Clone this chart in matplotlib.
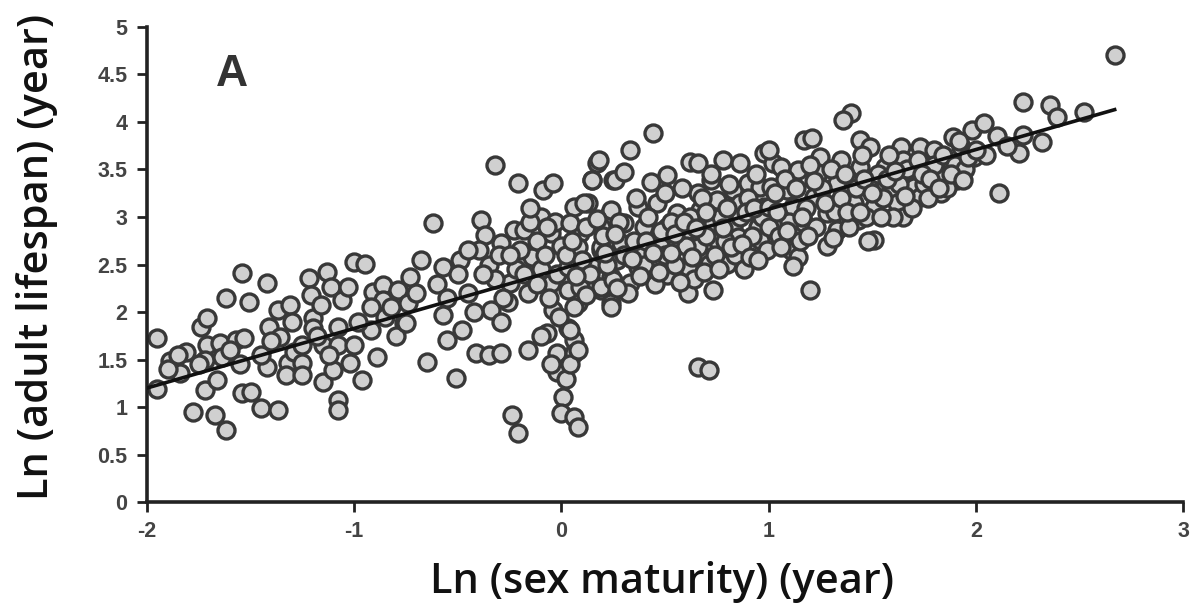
import numpy as np
import matplotlib
matplotlib.use("Agg")
import matplotlib.pyplot as plt

# ---- data ----
pts_left = [
    (-1.95,1.73),(-1.95,1.19),(-1.89,1.48),(-1.81,1.58),(-1.84,1.36),(-1.78,0.95),
    (-1.74,1.84),(-1.71,1.94),(-1.71,1.65),(-1.72,1.49),(-1.72,1.18),(-1.66,1.28),
    (-1.67,0.92),(-1.62,0.76),(-1.65,1.67),(-1.64,1.53),(-1.62,2.15),(-1.57,1.71),
    (-1.54,2.41),(-1.51,2.11),(-1.53,1.73),(-1.54,1.15),(-1.50,1.16),(-1.45,0.99),
    (-1.37,0.97),(-1.42,1.42),(-1.42,2.31),(-1.41,1.84),(-1.37,2.02),(-1.36,1.74),
    (-1.32,1.46),(-1.33,1.34),(-1.31,2.07),(-1.29,1.58),(-1.25,1.46),(-1.25,1.34),
    (-1.22,2.36),(-1.21,2.18),(-1.20,1.94),(-1.20,1.83),(-1.16,2.07),(-1.13,2.42),
    (-1.11,2.26),(-1.06,2.13),(-1.03,2.26),(-1.15,1.65),(-1.15,1.26),(-1.10,1.39),
    (-1.08,1.07),(-1.08,0.97),(-1.08,1.65),(-1.08,1.84),(-1.00,1.65),(-1.02,1.46),
    (-0.96,1.28),(-1.00,2.53),(-0.95,2.51),(-0.92,1.81),(-0.89,1.53),(-0.91,2.21),
    (-0.86,2.28),(-0.79,2.23),(-0.76,1.88),(-0.86,2.13),
    (-1.90,1.40),(-1.85,1.55),(-1.75,1.45),(-1.60,1.60),(-1.55,1.45),(-1.45,1.55),
    (-1.40,1.70),(-1.30,1.90),(-1.25,1.65),(-1.18,1.75),(-1.12,1.55),(-0.98,1.90),
    (-0.92,2.05),(-0.85,1.95),(-0.82,2.05),(-0.80,1.75),
]

pts_mid = [
    (-0.32,3.55),(-0.21,3.36),(-0.62,2.94),(-0.39,2.97),(-0.37,2.81),(-0.73,2.37),
    (-0.74,2.09),(-0.75,1.88),(-0.57,2.47),(-0.49,2.55),(-0.57,1.97),(-0.55,1.71),
    (-0.48,1.81),(-0.65,1.47),(-0.51,1.31),(-0.40,2.65),(-0.41,1.57),(-0.35,1.55),
    (-0.29,1.57),(-0.34,2.02),(-0.29,1.89),(-0.26,2.11),(-0.25,2.31),(-0.23,2.86),
    (-0.29,2.73),(-0.16,1.60),(-0.24,0.92),(-0.21,0.73),(-0.09,3.28),(-0.04,3.36),
    (-0.10,3.00),(-0.05,2.83),(-0.18,2.86),(-0.14,2.58),(-0.16,2.20),(-0.05,2.31),
    (-0.04,2.02),(-0.07,1.78),(-0.02,1.57),(-0.02,1.37),(0.01,1.11),(0.00,0.94),
    (0.06,0.89),(0.08,0.79),(0.06,1.71),(0.06,1.57),(0.03,1.83),(0.08,2.09),
    (0.03,2.23),(0.06,3.11),(0.09,2.83),(0.13,3.15),(0.17,3.57),(0.15,3.39),
    (0.25,3.39),(0.22,3.00),(0.19,2.65),(0.24,2.37),(0.19,2.23),(0.24,2.09),(0.15,2.31),
    (-0.70,2.20),(-0.68,2.55),(-0.60,2.30),(-0.55,2.15),(-0.50,2.40),(-0.45,2.20),
    (-0.42,2.00),(-0.35,2.50),(-0.32,2.35),(-0.30,2.60),(-0.28,2.15),(-0.22,2.45),
    (-0.20,2.65),(-0.18,2.40),(-0.12,2.75),(-0.10,2.45),(-0.08,2.60),(-0.06,2.15),
    (-0.03,2.95),(-0.02,2.40),(-0.01,1.95),(0.00,2.70),(-0.05,1.45),(0.02,1.30),
    (-0.10,1.75),(0.04,1.45),
    (-0.15,2.95),(-0.25,2.60),(-0.38,2.40),(-0.45,2.65),(-0.12,2.30),(-0.07,2.90),
    (-0.15,3.10),
]

pts_dense = [
    (0.44,3.88),(0.33,3.71),(0.18,3.60),(0.15,3.39),(0.26,3.39),(0.30,3.47),
    (0.43,3.37),(0.51,3.44),(0.62,3.58),(0.66,3.57),(0.78,3.60),(0.86,3.57),
    (0.98,3.67),(1.02,3.57),(0.72,3.39),(0.66,3.25),(0.83,3.28),(0.90,3.36),
    (0.96,3.32),(0.11,3.15),(0.24,3.07),(0.37,3.11),(0.46,3.15),(0.56,3.04),
    (0.67,3.07),(0.75,3.18),(0.86,3.15),(0.98,3.11),(0.04,2.94),(0.19,2.89),
    (0.30,2.94),(0.40,2.89),(0.51,2.89),(0.61,2.86),(0.73,2.94),(0.83,2.89),
    (0.95,2.89),(1.02,2.94),(0.08,2.68),(0.19,2.68),(0.29,2.73),(0.38,2.65),
    (0.48,2.68),(0.56,2.73),(0.66,2.68),(0.75,2.76),(0.85,2.79),(0.96,2.76),
    (0.03,2.47),(0.15,2.47),(0.27,2.55),(0.37,2.47),(0.46,2.55),(0.61,2.47),
    (0.71,2.51),(0.80,2.51),(0.09,2.26),(0.19,2.26),(0.25,2.34),(0.33,2.31),
    (0.51,2.39),(0.61,2.20),(0.73,2.23),(0.06,2.05),(0.24,2.05),(0.04,1.81),
    (0.08,1.60),(0.66,1.42),(0.71,1.39),
    (0.02,2.60),(0.05,2.75),(0.10,2.55),(0.12,2.90),(0.14,2.40),(0.20,2.80),
    (0.22,2.50),(0.28,2.95),(0.30,2.60),(0.32,2.20),(0.35,2.75),(0.36,3.20),
    (0.40,2.50),(0.42,3.00),(0.45,2.30),(0.48,2.85),(0.50,3.25),(0.50,2.60),
    (0.53,2.95),(0.55,2.50),(0.58,3.30),(0.60,2.70),(0.62,3.00),(0.64,2.35),
    (0.68,3.20),(0.70,2.80),(0.72,3.45),(0.74,2.60),(0.77,3.00),(0.79,2.75),
    (0.81,3.35),(0.84,2.60),(0.86,3.00),(0.88,2.45),(0.90,3.20),(0.92,2.80),
    (0.94,3.45),(0.97,3.00),(0.99,2.65),
    (0.07,2.38),(0.12,2.18),(0.17,2.98),(0.21,2.62),(0.26,2.82),(0.27,2.25),
    (0.34,2.56),(0.38,2.38),(0.41,2.75),(0.44,2.62),(0.47,2.42),(0.53,2.62),
    (0.55,2.82),(0.57,2.32),(0.59,2.95),(0.63,2.58),(0.65,2.88),(0.69,2.42),
    (0.70,3.05),(0.76,2.45),(0.78,2.88),(0.80,3.10),(0.82,2.68),(0.87,2.72),
    (0.89,3.05),(0.91,2.58),(0.93,3.10),(0.95,2.55),
]

pts_right = [
    (1.40,4.09),(1.36,4.02),(1.17,3.81),(1.21,3.83),(1.00,3.71),(1.44,3.81),
    (1.49,3.74),(1.64,3.74),(1.73,3.74),(1.80,3.71),(1.89,3.84),(1.98,3.92),
    (1.93,3.74),(1.99,3.63),(1.06,3.53),(1.14,3.49),(1.25,3.63),(1.35,3.60),
    (1.44,3.53),(1.56,3.53),(1.65,3.60),(1.70,3.46),(1.82,3.46),(1.91,3.39),
    (1.01,3.32),(1.09,3.28),(1.24,3.46),(1.25,3.32),(1.33,3.36),(1.49,3.39),
    (1.59,3.28),(1.70,3.32),(1.83,3.25),(1.00,3.11),(1.12,3.11),(1.22,3.21),
    (1.41,3.15),(1.51,3.11),(1.62,3.15),(1.73,3.21),(1.00,2.89),(1.17,2.94),
    (1.28,3.04),(1.33,2.86),(1.43,2.97),(1.51,2.76),(1.65,3.00),(1.11,2.65),
    (1.14,2.58),(1.20,2.23),
    (1.03,3.25),(1.05,2.80),(1.08,3.40),(1.10,2.95),(1.13,3.30),(1.15,2.75),
    (1.18,3.10),(1.20,3.55),(1.23,2.90),(1.26,3.30),(1.28,2.70),(1.30,3.50),
    (1.32,3.05),(1.37,3.45),(1.39,2.90),(1.42,3.30),(1.45,3.65),(1.47,3.00),
    (1.48,2.75),(1.53,3.45),(1.55,3.20),(1.58,3.65),(1.60,3.00),(1.63,3.35),
    (1.67,3.50),(1.69,3.10),(1.72,3.60),(1.75,3.35),(1.77,3.20),(1.80,3.55),
    (1.84,3.65),(1.86,3.30),(1.90,3.55),(1.92,3.80),(1.95,3.50),
    (1.04,3.05),(1.06,2.68),(1.09,2.85),(1.12,2.48),(1.16,3.00),(1.19,2.80),
    (1.22,3.38),(1.27,3.15),(1.31,2.78),(1.35,3.20),(1.38,3.05),(1.44,3.05),
    (1.46,3.40),(1.50,3.25),(1.54,3.00),(1.57,3.40),(1.61,3.48),(1.66,3.22),
    (1.74,3.45),(1.78,3.40),(1.82,3.30),(1.88,3.45),
    (2.67,4.71),(2.23,4.21),(2.36,4.18),(2.39,4.05),(2.52,4.11),(2.04,3.99),
    (2.23,3.86),(2.32,3.79),(2.21,3.67),(1.96,3.63),(1.94,3.39),(2.11,3.25),
    (2.05,3.65),(2.10,3.85),(2.00,3.70),(2.15,3.75),
]

fit_x = [-2.0, 2.67]
fit_y = [1.20, 4.13]

x_ticks = [-2, -1, 0, 1, 2, 3]
y_ticks = [0, 0.5, 1, 1.5, 2, 2.5, 3, 3.5, 4, 4.5, 5]
y_tick_labels = ["0", "0.5", "1", "1.5", "2", "2.5", "3", "3.5", "4", "4.5", "5"]

all_pts = np.array(pts_left + pts_mid + pts_dense + pts_right)

# ---- figure ----
fig = plt.figure(figsize=(11.98, 6.05), dpi=100)
ax = fig.add_axes([0.1227, 0.1702, 0.8648, 0.7852])

ax.scatter(all_pts[:, 0], all_pts[:, 1], s=150, facecolor="#d0d0d0",
           edgecolor="#383838", linewidths=2.4, zorder=2, clip_on=False)
ax.plot(fit_x, fit_y, color="#111111", lw=2.6, zorder=3)

ax.set_xlim(-2, 3)
ax.set_ylim(0, 5)
ax.set_xticks(x_ticks)
ax.set_xticklabels([str(t) for t in x_ticks])
ax.set_yticks(y_ticks)
ax.set_yticklabels(y_tick_labels)

for s in ["top", "right"]:
    ax.spines[s].set_visible(False)
for s in ["left", "bottom"]:
    ax.spines[s].set_linewidth(2.6)
    ax.spines[s].set_color("#222222")

ax.tick_params(direction="out", length=7, width=2, color="#222222",
               labelsize=15.5, labelcolor="#444444", pad=7)
for lab in ax.get_xticklabels() + ax.get_yticklabels():
    lab.set_fontweight("bold")
    lab.set_family(["Liberation Sans", "DejaVu Sans"])

ax.set_xlabel("Ln (sex maturity) (year)", fontsize=30, fontweight="semibold",
              family=["Open Sans", "DejaVu Sans"], color="#111111")
ax.set_ylabel("Ln (adult lifespan) (year)", fontsize=30, fontweight="semibold",
              family=["Open Sans", "DejaVu Sans"], color="#111111")
ax.xaxis.label.set_va("center")
ax.yaxis.label.set_va("center")
ax.xaxis.set_label_coords(0.497, -0.168)
ax.yaxis.set_label_coords(-0.106, 0.515)

ax.text(-1.59, 4.5, "A", fontsize=32, fontweight="bold", color="#333333",
        family=["Liberation Sans", "DejaVu Sans"], va="center", ha="center")

fig.savefig("out.png", dpi=100)
